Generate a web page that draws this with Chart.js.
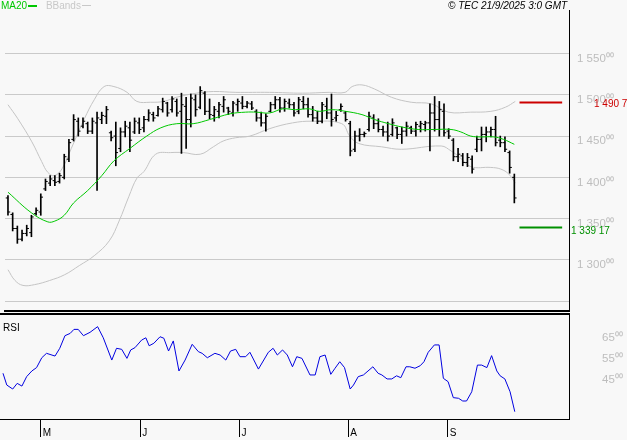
<!DOCTYPE html>
<html>
<head>
<meta charset="utf-8">
<script src="https://cdn.jsdelivr.net/npm/chart.js@4.4.1/dist/chart.umd.min.js"></script>
<style>
  body { margin: 0; background: #f8f8f8; }
  #wrap { position: relative; width: 627px; height: 440px; overflow: hidden; background: #f8f8f8; }
  canvas { position: absolute; left: 0; }
  .txt { position: absolute; font-family: 'Liberation Sans', Arial, sans-serif; font-size: 10px; line-height: 11px; white-space: nowrap; }
  .sw { display: inline-block; width: 9px; height: 1px; vertical-align: middle; margin: 0 2px 1px 1px; }
  #sep { position: absolute; left: 0; top: 313px; width: 570px; height: 2px; background: #000; }
</style>
</head>
<body>
<div id="wrap">
  <canvas id="priceChart" width="627" height="316" style="top:0"></canvas>
  <canvas id="rsiChart" width="627" height="126" style="top:314px"></canvas>
  <div id="sep"></div>

  <div class="txt" style="left:1px;top:0">
    <span style="color:#00c800">MA20</span><span class="sw" style="background:#00c800;height:2px"></span>
    <span style="color:#c8c8c8;margin-left:4px">BBands</span><span class="sw" style="background:#c8c8c8"></span>
  </div>
  <div class="txt" style="left:448px;top:0;font-style:italic;color:#000">© TEC 21/9/2025 3:0 GMT</div>
  <div class="txt" style="left:3px;top:322px;color:#000">RSI</div>
  <div class="txt" style="left:594px;top:98px;color:#cc0000">1 490 70</div>
  <div class="txt" style="left:571px;top:225px;color:#009000">1 339 17</div>
</div>

<script>
// daily bars, mid-April to 19 Sep
const highs = [
  1378, 1357, 1341, 1336, 1342, 1354, 1363, 1380, 1398, 1402,
  1402, 1405, 1428, 1446, 1476, 1472, 1472, 1467, 1472, 1479,
  1479, 1486, 1456, 1467, 1460, 1468, 1467, 1472, 1472, 1474,
  1482, 1479, 1486, 1496, 1491, 1498, 1495, 1502, 1497, 1501,
  1500, 1510, 1504, 1495, 1486, 1491, 1498, 1485, 1492, 1495,
  1498, 1492, 1492, 1482, 1479, 1477, 1491, 1498, 1497, 1495,
  1495, 1491, 1497, 1498, 1496, 1486, 1480, 1491, 1496, 1501,
  1480, 1489, 1480, 1468, 1456, 1459, 1455, 1479, 1476, 1471,
  1462, 1467, 1471, 1461, 1461, 1467, 1462, 1467, 1468, 1468,
  1489, 1498, 1492, 1489, 1459, 1447, 1435, 1429, 1429, 1426,
  1450, 1461, 1461, 1461, 1474, 1450, 1449, 1432, 1404
];
const lows = [
  1354, 1335, 1320, 1323, 1329, 1328, 1354, 1354, 1384, 1390,
  1390, 1393, 1398, 1419, 1444, 1450, 1460, 1453, 1453, 1384,
  1465, 1465, 1444, 1414, 1431, 1449, 1431, 1453, 1453, 1455,
  1468, 1468, 1474, 1479, 1474, 1479, 1474, 1429, 1435, 1461,
  1474, 1483, 1476, 1471, 1468, 1472, 1479, 1476, 1474, 1480,
  1483, 1484, 1482, 1468, 1462, 1456, 1479, 1483, 1479, 1480,
  1484, 1474, 1477, 1483, 1473, 1468, 1465, 1466, 1471, 1462,
  1468, 1480, 1468, 1426, 1431, 1444, 1449, 1456, 1459, 1455,
  1450, 1444, 1450, 1447, 1441, 1450, 1453, 1450, 1455, 1456,
  1432, 1456, 1450, 1450, 1447, 1420, 1419, 1414, 1413, 1405,
  1431, 1432, 1443, 1449, 1438, 1437, 1431, 1405, 1369
];
const opens = [
  1375, 1355, 1338, 1325, 1332, 1333, 1356, 1358, 1386, 1393,
  1396, 1395, 1400, 1422, 1446, 1468, 1462, 1465, 1456, 1466,
  1470, 1474, 1454, 1450, 1435, 1455, 1460, 1455, 1466, 1460,
  1470, 1476, 1475, 1482, 1490, 1482, 1492, 1480, 1486, 1470,
  1494, 1485, 1502, 1480, 1475, 1480, 1486, 1484, 1478, 1488,
  1490, 1486, 1489, 1480, 1472, 1466, 1480, 1488, 1494, 1484,
  1490, 1488, 1480, 1492, 1488, 1476, 1472, 1468, 1486, 1478,
  1472, 1482, 1478, 1465, 1434, 1450, 1452, 1458, 1472, 1465,
  1458, 1455, 1452, 1460, 1452, 1456, 1460, 1456, 1462, 1464,
  1466, 1478, 1470, 1480, 1456, 1445, 1425, 1426, 1418, 1422,
  1434, 1446, 1452, 1455, 1458, 1445, 1442, 1430, 1400
];
const closes = [
  1358, 1338, 1325, 1332, 1338, 1352, 1360, 1376, 1395, 1398,
  1394, 1402, 1425, 1442, 1470, 1456, 1468, 1456, 1468, 1472,
  1475, 1482, 1448, 1430, 1455, 1462, 1445, 1468, 1458, 1470,
  1478, 1472, 1483, 1492, 1478, 1495, 1478, 1488, 1470, 1496,
  1482, 1505, 1480, 1476, 1482, 1488, 1494, 1480, 1490, 1492,
  1486, 1490, 1484, 1472, 1466, 1474, 1488, 1494, 1484, 1492,
  1488, 1478, 1494, 1488, 1476, 1472, 1468, 1488, 1478, 1470,
  1475, 1486, 1470, 1432, 1450, 1452, 1453, 1474, 1465, 1458,
  1455, 1450, 1466, 1452, 1456, 1462, 1456, 1464, 1465, 1466,
  1478, 1470, 1482, 1454, 1450, 1425, 1428, 1418, 1424, 1410,
  1446, 1452, 1455, 1458, 1442, 1442, 1434, 1412, 1375
];

// MA20 and Bollinger bands (bar index, price)
const maIdx = [0, 5, 8.5, 10, 12, 14, 17, 20, 22.6, 26, 29.6, 32.6, 36, 39.5, 43, 47.4, 50.7, 53, 55.8, 58.6,
  61.3, 64.3, 66.4, 69, 72, 75.5, 78.2, 81.2, 84, 87.5, 91, 94.5, 96.6, 98.7, 100.8, 103.6, 105.7, 108];
const maVal = [1382, 1357, 1346, 1347, 1354, 1369, 1384, 1402, 1420, 1435, 1450, 1460, 1465, 1465, 1470, 1477, 1479, 1479, 1478, 1483,
  1482, 1483, 1480, 1482, 1480, 1476, 1470, 1465, 1461, 1458, 1458, 1458, 1455, 1450, 1449, 1449, 1446, 1440];

const upIdx = [0, 2.1, 5.1, 7.2, 8.5, 9.9, 11.6, 13.5, 16.3, 18.4, 20.5, 22.6, 25.4, 27.5, 30.4, 33.2, 35.9, 40.2,
  43.8, 48.6, 55.8, 62.8, 68.5, 71.9, 73.4, 75.5, 78.2, 81.8, 86, 90.3, 93.9, 98.7, 103, 106.1, 108.2];
const upVal = [1488, 1471, 1443, 1419, 1406, 1402, 1411, 1435, 1471, 1494, 1510, 1510, 1503, 1492, 1491, 1492, 1497, 1502,
  1504, 1503, 1503, 1502, 1503, 1503, 1510, 1512, 1507, 1497, 1491, 1489, 1479, 1479, 1480, 1485, 1492];

const loIdx = [0, 1.5, 3.2, 5.7, 8.9, 12.1, 15.2, 18.4, 21.6, 23.7, 25.8, 27.5, 29, 31.5, 34.7, 37.4, 41, 43.8, 45.9,
  48.6, 51.6, 55.8, 60.7, 64.9, 71.2, 72.9, 74.8, 79.7, 83.9, 92.4, 94.5, 96.2, 98.7, 103, 105.1, 106.8, 108.2];
const loVal = [1288, 1275, 1269, 1270, 1275, 1282, 1293, 1305, 1323, 1347, 1377, 1399, 1407, 1428, 1430, 1430, 1428, 1437, 1444,
  1448, 1450, 1459, 1466, 1468, 1465, 1450, 1441, 1437, 1434, 1438, 1432, 1425, 1413, 1412, 1410, 1404, 1393];

// RSI turning points (bar index, value)
const rsiIdx = [0, 0.8, 2.05, 3, 4, 5, 6.1, 7.1, 8.2, 9.2, 11, 12, 13.1, 14.2, 15, 15.9, 17, 18.4, 20, 21.2,
  23, 24, 25.1, 26.2, 27, 27.9, 29.3, 30.2, 30.9, 31.9, 33.2, 34, 35, 36, 37.2, 38.5, 40, 41.3, 42.1, 43.2,
  44.8, 45.9, 47.1, 48.1, 49.2, 50.1, 51.3, 52.2, 54, 56.1, 57.1, 58, 59.1, 60.1, 61.2, 62.1, 63.2, 64.9, 66, 67,
  68.1, 69.3, 70.2, 71.2, 72.2, 73.4, 74.1, 75.1, 76.2, 78.2, 79.3, 80.1, 81.2, 82.2, 83.2, 84.1, 85.2, 86, 87.1, 88.2,
  89, 89.9, 91.2, 92.2, 93.1, 94.1, 95.2, 96.3, 97.2, 98, 99.1, 100.3, 101.2, 102.3, 103.3, 104.4, 105.1, 106.1, 107.2, 108.2];
const rsiVal = [48.2, 42.6, 40.7, 43.4, 42.1, 46.6, 49.3, 50.9, 55.6, 57.7, 56.4, 60.1, 66.1, 67.2, 69.1, 69.1, 66.1, 67.7, 70.4, 65.1,
  54.5, 60.1, 59.6, 55.3, 59.3, 60.4, 64, 65.1, 61.3, 62.5, 65.6, 64.9, 58.8, 63.6, 49.3, 54.5, 62, 58.5, 57.7, 55.6,
  57.7, 56.9, 54.5, 58.8, 59.6, 56.1, 56.1, 58.2, 50.2, 58.2, 60.1, 56.9, 59.3, 56.9, 51.3, 56.1, 55.3, 47.4, 47.4, 56.1,
  56.9, 47.7, 50.6, 53.7, 50.9, 40.7, 42.6, 46.6, 47.4, 51.3, 48.2, 47.4, 45.5, 45.5, 47, 46.1, 51.3, 51.3, 50.6, 51.8,
  53.7, 58.2, 61.7, 61.7, 45.8, 44.2, 36.6, 36.3, 35, 35, 39.4, 52.1, 52.1, 50.9, 56.6, 49.3, 47, 45.5, 39.4, 29.9];

const levels = [1490.7, 1339.17];

const monthStart = [8, 29, 50, 73, 94];
const monthLabels = ['M', 'J', 'J', 'A', 'S'];

const priceGrid = [1250, 1300, 1350, 1400, 1450, 1500, 1550];
const priceLabels = ['', '1 300⁰⁰', '1 350⁰⁰', '1 400⁰⁰', '1 450⁰⁰', '1 500⁰⁰', '1 550⁰⁰'];
const rsiTicks = [45, 55, 65];
const rsiLabels = ['45⁰⁰', '55⁰⁰', '65⁰⁰'];

// view window
const X_MIN = -0.634;
const X_MAX = 119.66;
const LEVEL_X = [109.1, 118.2];
const FONT = "'Liberation Sans', Arial, sans-serif";

function pts(xs, ys) {
  return xs.map(function (x, i) { return { x: x, y: ys[i] }; });
}

// keep the plot area exactly where the layout asks for it
function noEdgePadding(s) {
  s.paddingTop = 0;
  s.paddingBottom = 0;
  s.paddingLeft = 0;
  s.paddingRight = 0;
}

const hlData = highs.map(function (h, i) { return { x: i, y: [lows[i], h] }; });
const openData = opens.map(function (o, i) { return { x: i - 0.22, y: o }; });
const closeData = closes.map(function (c, i) { return { x: i + 0.22, y: c }; });

function levelLine(v, color) {
  return {
    type: 'line',
    data: [{ x: LEVEL_X[0], y: v }, { x: LEVEL_X[1], y: v }],
    borderColor: color,
    borderWidth: 2,
    pointRadius: 0
  };
}

function tickStyle(data) {
  return {
    type: 'scatter',
    data: data,
    pointStyle: 'line',
    radius: 1.2,
    borderColor: '#000',
    borderWidth: 1,
    backgroundColor: '#000',
    order: 3
  };
}

new Chart(document.getElementById('priceChart'), {
  type: 'bar',
  data: {
    datasets: [
      { type: 'line', data: pts(upIdx, upVal), borderColor: '#c4c4c4', borderWidth: 1, pointRadius: 0, tension: 0.4, order: 5 },
      { type: 'line', data: pts(loIdx, loVal), borderColor: '#c4c4c4', borderWidth: 1, pointRadius: 0, tension: 0.4, order: 5 },
      { type: 'bar', data: hlData, backgroundColor: '#000', barThickness: 1, order: 3 },
      tickStyle(openData),
      tickStyle(closeData),
      { type: 'line', data: pts(maIdx, maVal), borderColor: '#00c800', borderWidth: 1, pointRadius: 0, tension: 0.4, order: 1 },
      levelLine(levels[0], '#cc0000'),
      levelLine(levels[1], '#009000')
    ]
  },
  options: {
    responsive: false,
    animation: false,
    events: [],
    layout: { padding: { top: 10, left: 0, right: 0, bottom: 0 } },
    plugins: { legend: { display: false }, tooltip: { enabled: false } },
    scales: {
      x: {
        type: 'linear',
        offset: false,
        min: X_MIN,
        max: X_MAX,
        grid: { display: true, drawOnChartArea: false, drawTicks: false },
        ticks: { display: false },
        border: { display: true, color: '#000', width: 2 },
        afterFit: function (s) { s.height = 2; noEdgePadding(s); }
      },
      y: {
        type: 'linear',
        position: 'right',
        min: 1238,
        max: 1602.8,
        afterFit: function (s) { s.width = 58; noEdgePadding(s); },
        afterBuildTicks: function (s) {
          s.ticks = priceGrid.map(function (v) { return { value: v }; });
        },
        grid: { color: '#cacaca', drawTicks: false },
        border: { display: true, color: '#000', width: 1 },
        ticks: {
          color: '#bdbdbd',
          padding: 8,
          labelOffset: 5,
          font: { family: FONT, size: 11.5 },
          callback: function (v, i) { return priceLabels[i]; }
        }
      }
    }
  }
});

new Chart(document.getElementById('rsiChart'), {
  type: 'line',
  data: {
    datasets: [
      { data: pts(rsiIdx, rsiVal), borderColor: '#0000e0', borderWidth: 1, pointRadius: 0, tension: 0 }
    ]
  },
  options: {
    responsive: false,
    animation: false,
    events: [],
    layout: { padding: { top: 1, left: 0, right: 0, bottom: 0 } },
    plugins: { legend: { display: false }, tooltip: { enabled: false } },
    scales: {
      x: {
        type: 'linear',
        offset: false,
        min: X_MIN,
        max: X_MAX,
        afterFit: function (s) { s.height = 21; noEdgePadding(s); },
        afterBuildTicks: function (s) {
          s.ticks = monthStart.map(function (v) { return { value: v }; });
        },
        grid: { display: true, drawOnChartArea: false, drawTicks: true, tickLength: 18, color: '#000', lineWidth: 1 },
        border: { display: true, color: '#000', width: 1 },
        ticks: {
          autoSkip: false,
          maxRotation: 0,
          align: 'start',
          padding: -10,
          labelOffset: 2,
          color: '#000',
          font: { family: FONT, size: 10 },
          callback: function (v, i) { return monthLabels[i]; }
        }
      },
      y: {
        type: 'linear',
        position: 'right',
        min: 26.43,
        max: 75.95,
        afterFit: function (s) { s.width = 58; noEdgePadding(s); },
        afterBuildTicks: function (s) {
          s.ticks = rsiTicks.map(function (v) { return { value: v }; });
        },
        grid: { display: false },
        border: { display: true, color: '#000', width: 1 },
        ticks: {
          color: '#bdbdbd',
          padding: 25,
          font: { family: FONT, size: 11.5 },
          callback: function (v, i) { return rsiLabels[i]; }
        }
      }
    }
  }
});
</script>
</body>
</html>
